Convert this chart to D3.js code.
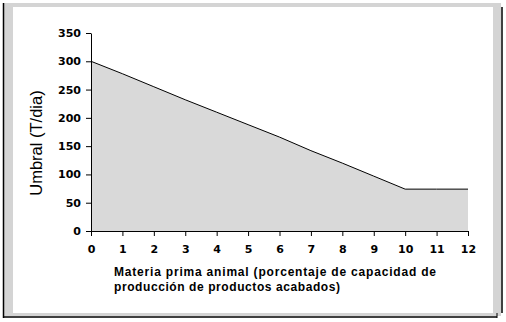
<!DOCTYPE html>
<html><head><meta charset="utf-8">
<script src="https://cdn.jsdelivr.net/npm/d3@7"></script>
<style>body{margin:0;background:#fff}svg{display:block}</style>
</head><body>
<script>
const xValues = [0,1,2,3,4,5,6,7,8,9,10,11,12];
const umbral = [300,278,255,232,210,188,166,142,120,97,74,74,74];
const yTicks = [0,50,100,150,200,250,300,350];
const xTicks = [0,1,2,3,4,5,6,7,8,9,10,11,12];
const yTitle = "Umbral (T/dia)";
const xTitleLines = ["Materia prima animal (porcentaje de capacidad de", "producción de productos acabados)"];
const xTitleWidths = [322, 226];

const W = 506, H = 322;
const svg = d3.select("body").append("svg").attr("width", W).attr("height", H);

// frame
svg.append("rect").attr("x",4).attr("y",3).attr("width",497).attr("height",313).attr("fill","#d4d4d4");
svg.append("rect").attr("x",13).attr("y",7).attr("width",480).attr("height",306).attr("fill","#ffffff");
svg.append("line").attr("x1",3.5).attr("x2",3.5).attr("y1",3).attr("y2",318).attr("stroke","#000").attr("stroke-width",1.5);
svg.append("line").attr("x1",3).attr("x2",497).attr("y1",317).attr("y2",317).attr("stroke","#000").attr("stroke-width",1.5);
svg.append("line").attr("x1",502).attr("x2",502).attr("y1",7).attr("y2",313).attr("stroke","#000").attr("stroke-width",1.5);
svg.append("line").attr("x1",497).attr("x2",497).attr("y1",313).attr("y2",318).attr("stroke","#000").attr("stroke-width",1);

const x = d3.scaleLinear().domain([0,12]).range([91,468]);
const y = d3.scaleLinear().domain([0,350]).range([231,33]);

const data = xValues.map((v,i)=>({x:v, y:umbral[i]}));

svg.append("path").datum(data)
  .attr("fill","#d9d9d9")
  .attr("d", d3.area().x(d=>x(d.x)).y0(y(0)).y1(d=>y(d.y)));
svg.append("path").datum(data)
  .attr("fill","none").attr("stroke","#000").attr("stroke-width",1)
  .attr("d", d3.line().x(d=>x(d.x)).y(d=>y(d.y)));

const tickFont = "'DejaVu Sans', Verdana, sans-serif";
const ya = svg.append("g").attr("transform","translate(91,0)")
  .call(d3.axisLeft(y).tickValues(yTicks).tickSize(5).tickSizeOuter(0).tickPadding(5));
const xa = svg.append("g").attr("transform","translate(0,231)")
  .call(d3.axisBottom(x).tickValues(xTicks).tickSize(5).tickSizeOuter(0).tickPadding(9));
[ya, xa].forEach(g => {
  g.selectAll("text").attr("font-family", tickFont).attr("font-size", 11).attr("font-weight","bold").attr("fill","#000");
  g.selectAll("line,path").attr("stroke","#000");
});

svg.append("text")
  .attr("transform","translate(41.5,143) rotate(-90)")
  .attr("text-anchor","middle")
  .attr("font-family","'Liberation Sans', Arial, sans-serif")
  .attr("font-size",16.5).attr("fill","#000")
  .text(yTitle);

xTitleLines.forEach((t,i)=>{
  svg.append("text")
    .attr("x",114).attr("y",276 + i*15)
    .attr("font-family","'Liberation Sans', Arial, sans-serif")
    .attr("font-size",12).attr("font-weight","bold").attr("fill","#000")
    .attr("textLength", xTitleWidths[i]).attr("lengthAdjust","spacing")
    .text(t);
});
</script>
</body></html>
